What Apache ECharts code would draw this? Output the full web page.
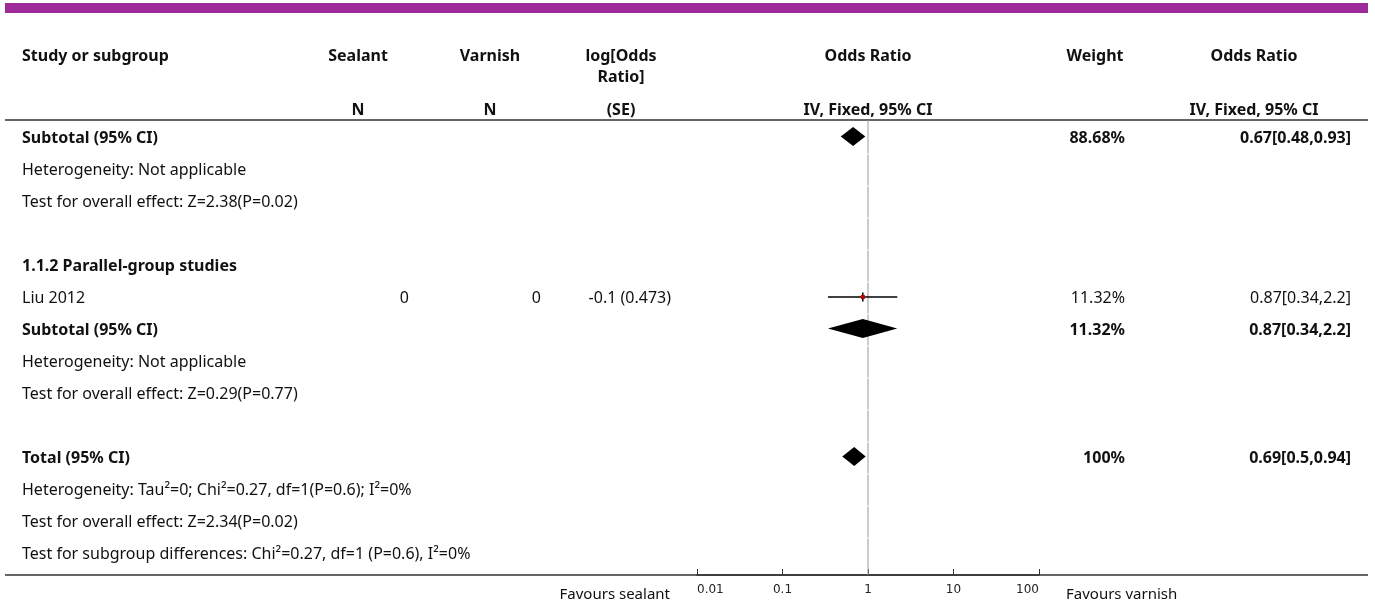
<!DOCTYPE html>
<html><head><meta charset="utf-8">
<script src="https://cdn.jsdelivr.net/npm/echarts@6/dist/echarts.min.js"></script>
<style>html,body{margin:0;padding:0;background:#fff}#c{width:1375px;height:606px}</style>
</head><body><div id="c"></div>
<script>
const rowLabels = ['Subtotal (95% CI)','Heterogeneity: Not applicable','Test for overall effect: Z=2.38(P=0.02)','','1.1.2 Parallel-group studies','Liu 2012','Subtotal (95% CI)','Heterogeneity: Not applicable','Test for overall effect: Z=0.29(P=0.77)','','Total (95% CI)','Heterogeneity: Tau\u00b2=0; Chi\u00b2=0.27, df=1(P=0.6); I\u00b2=0%','Test for overall effect: Z=2.34(P=0.02)','Test for subgroup differences: Chi\u00b2=0.27, df=1 (P=0.6), I\u00b2=0%'];
const rowBold   = [1,0,0,0,1,0,1,0,0,0,1,0,0,0];
const sealantN  = ['','','','','','0','','','','','','','',''];
const varnishN  = ['','','','','','0','','','','','','','',''];
const logORSE   = ['','','','','','-0.1 (0.473)','','','','','','','',''];
const weights   = ['88.68%','','','','','11.32%','11.32%','','','','100%','','',''];
const orText    = ['0.67[0.48,0.93]','','','','','0.87[0.34,2.2]','0.87[0.34,2.2]','','','','0.69[0.5,0.94]','','',''];
const valBold   = [1,0,0,0,0,0,1,0,0,0,1,0,0,0];

const diamondRow = [0, 6, 10];
const diamondEst = [0.67, 0.87, 0.69];
const diamondLo  = [0.48, 0.34, 0.5];
const diamondHi  = [0.93, 2.2, 0.94];

const studyRow = [5];
const studyEst = [0.87];
const studyLo  = [0.34];
const studyHi  = [2.2];

const xTicks = [0.01, 0.1, 1, 10, 100];
const headerTop = ['Study or subgroup','Sealant','Varnish','log[Odds','Odds Ratio','Weight','Odds Ratio'];
const headerBottom = ['','N','N','(SE)','IV, Fixed, 95% CI','','IV, Fixed, 95% CI'];

const chart = echarts.init(document.getElementById('c'), null, {renderer:'canvas'});
const FONT = 'Noto Sans';
const FS = 16;

const diamondData = diamondRow.map((r,i)=>[diamondLo[i], diamondEst[i], diamondHi[i], r]);
const studyData = studyRow.map((r,i)=>[studyLo[i], studyEst[i], studyHi[i], r]);
const refData = rowLabels.map((_,i)=>[1, i]);

chart.setOption({
  animation:false,
  grid:{left:697, top:120, width:342, height:455},
  xAxis:{type:'log', logBase:10, min:0.01, max:100, position:'bottom',
    axisLine:{show:true, onZero:false, lineStyle:{color:'#333', width:1.5}},
    axisTick:{show:true, inside:true, length:6, lineStyle:{color:'#333', width:1}},
    splitLine:{show:false},
    axisLabel:{color:'#222', fontFamily:'DejaVu Sans', fontSize:12, margin:9,
      alignMinLabel:'left', alignMaxLabel:'right',
      formatter:v=>{ const m = xTicks.find(t=>Math.abs(Math.log10(t)-Math.log10(v))<1e-6); return m!==undefined? String(m):''; }}
  },
  yAxis:{type:'value', inverse:true, min:-0.5625, max:13.65625, show:false},
  series:[
    {type:'custom', coordinateSystem:'cartesian2d', data:refData, encode:{x:0,y:1}, silent:true, clip:false,
      renderItem:(p,api)=>{
        const r = api.value(1);
        const top = r===0 ? api.coord([1,-0.5625]) : api.coord([1, r-0.5]);
        const bot = r===13 ? api.coord([1,13.65625]) : api.coord([1, r+0.5]);
        return {type:'line', shape:{x1:top[0], y1:top[1]+(r===0?0:0.5), x2:bot[0], y2:bot[1]-(r===13?0:0.5)}, style:{stroke:'#999', lineWidth:1}};
      }},
    {type:'custom', coordinateSystem:'cartesian2d', data:diamondData, encode:{x:[0,1,2], y:3}, silent:true,
      renderItem:(p,api)=>{
        const lo = api.coord([api.value(0), api.value(3)]);
        const es = api.coord([api.value(1), api.value(3)]);
        const hi = api.coord([api.value(2), api.value(3)]);
        const h = 9.5, y = lo[1]-1.5;
        return {type:'polygon', shape:{points:[[lo[0],y],[es[0],y-h],[hi[0],y],[es[0],y+h]]}, style:{fill:'#000'}};
      }},
    {type:'custom', coordinateSystem:'cartesian2d', data:studyData, encode:{x:[0,1,2], y:3}, silent:true,
      renderItem:(p,api)=>{
        const lo = api.coord([api.value(0), api.value(3)]);
        const es = api.coord([api.value(1), api.value(3)]);
        const hi = api.coord([api.value(2), api.value(3)]);
        const y = lo[1]-1;
        return {type:'group', children:[
          {type:'line', shape:{x1:lo[0], y1:y, x2:hi[0], y2:y}, style:{stroke:'#000', lineWidth:1.3}},
          {type:'line', shape:{x1:es[0], y1:y-4.5, x2:es[0], y2:y+4.5}, style:{stroke:'#000', lineWidth:1.5}},
          {type:'rect', shape:{x:es[0]-2, y:y-2, width:4, height:4}, style:{fill:'#c00000'}}
        ]};
      }}
  ]
});

const g = [];
g.push({type:'rect', shape:{x:5, y:3, width:1363, height:10}, style:{fill:'#9e2a99'}});
g.push({type:'line', shape:{x1:5, y1:120, x2:1368, y2:120}, style:{stroke:'#333', lineWidth:1.5}});
g.push({type:'line', z:-1, shape:{x1:5, y1:575, x2:1368, y2:575}, style:{stroke:'#333', lineWidth:1.5}});
const hx = [22, 358, 490, 621, 868, 1095, 1254];
const ha = ['left','center','center','center','center','center','center'];
const HF = 'bold '+FS+'px "'+FONT+'"';
headerTop.forEach((t,i)=>{
  g.push({type:'text', x:hx[i], y:56, style:{text:t, font:HF, fill:'#111', align:ha[i], verticalAlign:'middle'}});
  if (headerBottom[i]) g.push({type:'text', x:hx[i], y:110, style:{text:headerBottom[i], font:HF, fill:'#111', align:ha[i], verticalAlign:'middle'}});
});
g.push({type:'text', x:621, y:77, style:{text:'Ratio]', font:HF, fill:'#111', align:'center', verticalAlign:'middle'}});

rowLabels.forEach((t,i)=>{
  const y = chart.convertToPixel({yAxisIndex:0}, i);
  if (t) g.push({type:'text', x:22, y:y, style:{text:t, font:(rowBold[i]?'bold ':'')+FS+'px "'+FONT+'"', fill:'#111', align:'left', verticalAlign:'middle'}});
  const vf = (valBold[i]?'bold ':'')+FS+'px "'+FONT+'"';
  if (sealantN[i]) g.push({type:'text', x:409, y:y, style:{text:sealantN[i], font:vf, fill:'#111', align:'right', verticalAlign:'middle'}});
  if (varnishN[i]) g.push({type:'text', x:541, y:y, style:{text:varnishN[i], font:vf, fill:'#111', align:'right', verticalAlign:'middle'}});
  if (logORSE[i]) g.push({type:'text', x:671, y:y, style:{text:logORSE[i], font:vf, fill:'#111', align:'right', verticalAlign:'middle'}});
  if (weights[i]) g.push({type:'text', x:1125, y:y, style:{text:weights[i], font:vf, fill:'#111', align:'right', verticalAlign:'middle'}});
  if (orText[i]) g.push({type:'text', x:1351, y:y, style:{text:orText[i], font:vf, fill:'#111', align:'right', verticalAlign:'middle'}});
});
g.push({type:'text', x:670, y:595, style:{text:'Favours sealant', font:'15px "'+FONT+'"', fill:'#111', align:'right', verticalAlign:'middle'}});
g.push({type:'text', x:1066, y:595, style:{text:'Favours varnish', font:'15px "'+FONT+'"', fill:'#111', align:'left', verticalAlign:'middle'}});
chart.setOption({graphic:g});
</script></body></html>
